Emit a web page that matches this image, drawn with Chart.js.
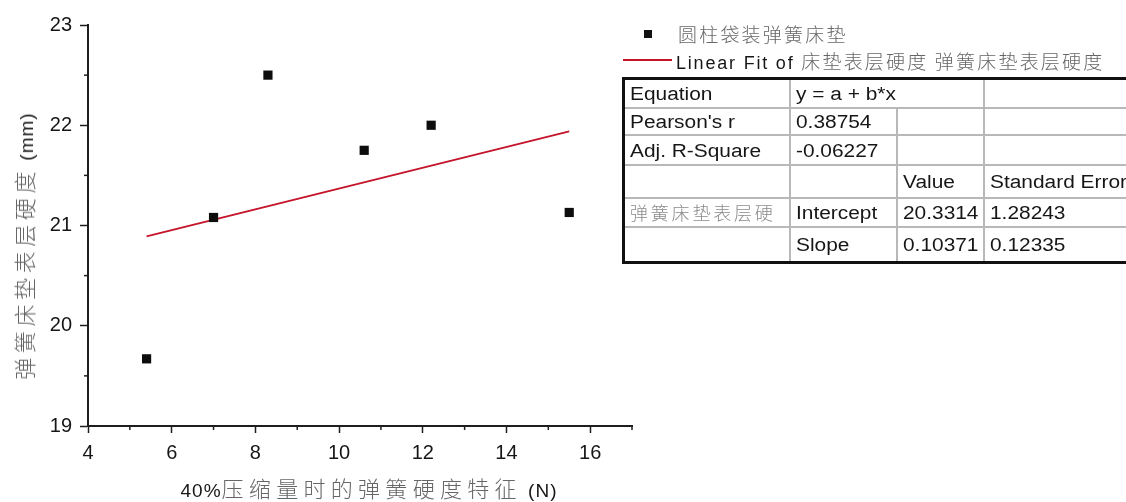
<!DOCTYPE html>
<html>
<head>
<meta charset="utf-8">
<title>弹簧床垫表层硬度</title>
<script src="https://cdn.jsdelivr.net/npm/chart.js@4.4.1/dist/chart.umd.min.js"></script>
<style>
  html, body { margin: 0; padding: 0; background: #fff; }
  #wrap { position: relative; width: 1126px; height: 502px; overflow: hidden; }
  #chart { position: absolute; left: 0; top: 0; }
  .lat { font-family: "Liberation Sans", Arial, sans-serif; color: #161616; }
  .cjk { font-family: "Noto Sans CJK SC", sans-serif; color: #666; font-weight: 300; }
  .title { position: absolute; white-space: nowrap; line-height: 1; }
  #xTitle { left: 369px; top: 488px; transform: translate(-50%, -50%); }
  #yTitle { left: 24px; top: 246px; transform: translate(-50%, -50%) rotate(-90deg); }
  .title .lat { font-size: 19px; letter-spacing: 1px; }
  #xTitle .cjk { font-size: 22px; letter-spacing: 5.3px; }
  #yTitle .cjk { font-size: 22px; letter-spacing: 4.6px; }
  #legend { position: absolute; left: 600px; top: 20px; }
  .legRow { position: absolute; white-space: nowrap; line-height: 1; }
  .legRow .lat { font-size: 18px; letter-spacing: 1.8px; }
  .legRow .cjk { font-size: 19px; letter-spacing: 2.2px; }
  #fitTable { position: absolute; left: 622px; top: 77px; border-collapse: collapse; table-layout: fixed; border: 3px solid #111; }
  #fitTable td { border: 2px solid #b8b8b8; padding: 3px 0 0 5px; vertical-align: middle; white-space: nowrap; overflow: hidden; box-sizing: border-box; line-height: 20px; }
  #fitTable td span.lat { display: inline-block; font-size: 18px; transform: scaleX(1.16); transform-origin: left center; }
  #fitTable td span.cjk { font-size: 18px; letter-spacing: 2.8px; color: #8a8a8a; }
</style>
</head>
<body>
<div id="wrap">
  <canvas id="chart" width="1126" height="502"></canvas>
  <div id="xTitle" class="title"></div>
  <div id="yTitle" class="title"></div>
  <div id="legend"></div>
  <table id="fitTable"></table>
</div>
<script>
// Measured samples: spring hardness at 40% compression (N) vs mattress surface hardness (mm)
const springHardness = [5.4, 7.0, 8.3, 10.6, 12.2, 15.5];
const surfaceHardness = [19.67, 21.08, 22.5, 21.75, 22.0, 21.13];

// Linear fit results (y = a + b*x)
const fitIntercept = 20.3314;
const fitSlope = 0.10371;

// Labelled (major) tick values
const xTickLabels = [4, 6, 8, 10, 12, 14, 16];
const yTickLabels = [19, 20, 21, 22, 23];

// Text pieces
const seriesName = '圆柱袋装弹簧床垫';
const fitLegendLatin = 'Linear Fit of ';
const fitLegendCjk = '床垫表层硬度 弹簧床垫表层硬度';
const xTitleParts = [['lat', '40%'], ['cjk', '压缩量时的弹簧硬度特征'], ['lat', ' (N)']];
const yTitleParts = [['cjk', '弹簧床垫表层硬度'], ['lat', ' (mm)']];

// Fit-result table rows: [text, css class, colspan]
const tableRows = [
  [['Equation', 'lat'], ['y = a + b*x', 'lat', 2], ['', 'lat']],
  [['Pearson\'s r', 'lat'], ['0.38754', 'lat'], ['', 'lat'], ['', 'lat']],
  [['Adj. R-Square', 'lat'], ['-0.06227', 'lat'], ['', 'lat'], ['', 'lat']],
  [['', 'lat'], ['', 'lat'], ['Value', 'lat'], ['Standard Error', 'lat']],
  [['弹簧床垫表层硬', 'cjk'], ['Intercept', 'lat'], ['20.3314', 'lat'], ['1.28243', 'lat']],
  [['', 'lat'], ['Slope', 'lat'], ['0.10371', 'lat'], ['0.12335', 'lat']]
];
const tableColWidths = [166, 107, 87, 160];
const tableRowHeights = [29, 27, 30, 33, 29, 36];

// ---- text overlays ----
function fillParts(el, parts) {
  parts.forEach(([cls, txt]) => {
    const s = document.createElement('span');
    s.className = cls;
    s.textContent = txt;
    el.appendChild(s);
  });
}
fillParts(document.getElementById('xTitle'), xTitleParts);
fillParts(document.getElementById('yTitle'), yTitleParts);

const legend = document.getElementById('legend');
legend.innerHTML =
  '<div style="position:absolute;left:44px;top:10px;width:8px;height:8px;background:#111"></div>' +
  '<div class="legRow" style="left:78px;top:4px"><span class="cjk"></span></div>' +
  '<div style="position:absolute;left:23px;top:39px;width:49px;height:2px;background:#c4152b"></div>' +
  '<div class="legRow" style="left:76px;top:31px"><span class="lat"></span><span class="cjk"></span></div>';
legend.querySelectorAll('.legRow')[0].querySelector('.cjk').textContent = seriesName;
legend.querySelectorAll('.legRow')[1].querySelector('.lat').textContent = fitLegendLatin;
legend.querySelectorAll('.legRow')[1].querySelector('.cjk').textContent = fitLegendCjk;

const table = document.getElementById('fitTable');
const cg = document.createElement('colgroup');
tableColWidths.forEach(w => { const c = document.createElement('col'); c.style.width = w + 'px'; cg.appendChild(c); });
table.appendChild(cg);
table.style.width = tableColWidths.reduce((a, b) => a + b, 0) + 'px';
tableRows.forEach((row, ri) => {
  const tr = document.createElement('tr');
  tr.style.height = tableRowHeights[ri] + 'px';
  row.forEach(([txt, cls, span]) => {
    const td = document.createElement('td');
    if (span) td.colSpan = span;
    const s = document.createElement('span');
    s.className = cls;
    s.textContent = txt;
    td.appendChild(s);
    tr.appendChild(td);
  });
  table.appendChild(tr);
});

// ---- chart ----
const points = springHardness.map((x, i) => ({ x, y: surfaceHardness[i] }));
const xMin = Math.min(...springHardness), xMax = Math.max(...springHardness);
const fitLine = [
  { x: xMin, y: fitIntercept + fitSlope * xMin },
  { x: xMax, y: fitIntercept + fitSlope * xMax }
];

const axisColor = '#1e1e1e';

// short unlabelled ticks between the labelled ones
const minorTicks = {
  id: 'minorTicks',
  afterDraw(chart) {
    const { ctx } = chart;
    const xs = chart.scales.x, ys = chart.scales.y;
    ctx.save();
    ctx.strokeStyle = axisColor;
    ctx.lineWidth = 1.5;
    xs.ticks.forEach(t => {
      if (xTickLabels.includes(t.value)) return;
      const px = xs.getPixelForValue(t.value);
      ctx.beginPath(); ctx.moveTo(px, xs.top); ctx.lineTo(px, xs.top + 4); ctx.stroke();
    });
    ys.ticks.forEach(t => {
      if (yTickLabels.includes(t.value)) return;
      const py = ys.getPixelForValue(t.value);
      ctx.beginPath(); ctx.moveTo(ys.right, py); ctx.lineTo(ys.right - 4, py); ctx.stroke();
    });
    ctx.restore();
  }
};

const tickFont = { family: '"Liberation Sans", Arial, sans-serif', size: 20 };

new Chart(document.getElementById('chart'), {
  type: 'scatter',
  data: {
    datasets: [
      {
        label: seriesName,
        data: points,
        pointStyle: 'rect',
        pointRadius: 6.5,
        pointHoverRadius: 6.5,
        backgroundColor: '#0d0d0d',
        borderColor: '#0d0d0d',
        borderWidth: 0
      },
      {
        label: fitLegendLatin + fitLegendCjk,
        data: fitLine,
        showLine: true,
        pointRadius: 0,
        borderColor: '#c4152b',
        borderWidth: 2,
        fill: false
      }
    ]
  },
  options: {
    responsive: false,
    animation: false,
    events: [],
    layout: { padding: { left: 0, top: 25, right: 494, bottom: 0 } },
    plugins: { legend: { display: false }, tooltip: { enabled: false } },
    scales: {
      x: {
        type: 'linear',
        min: 4, max: 17,
        afterFit(s) { s.height = 76; },
        border: { display: true, color: axisColor, width: 2 },
        grid: {
          display: true, drawOnChartArea: false, drawTicks: true, tickLength: 7, tickWidth: 1.5,
          tickColor: c => (c.tick && xTickLabels.includes(c.tick.value)) ? axisColor : 'rgba(0,0,0,0)'
        },
        ticks: {
          stepSize: 1, autoSkip: false, maxRotation: 0, padding: 8,
          color: '#161616', font: tickFont,
          callback: v => xTickLabels.includes(v) ? String(v) : ''
        }
      },
      y: {
        type: 'linear',
        min: 19, max: 23,
        afterFit(s) { s.width = 88; },
        border: { display: true, color: axisColor, width: 2 },
        grid: {
          display: true, drawOnChartArea: false, drawTicks: true, tickLength: 8, tickWidth: 1.5,
          tickColor: c => (c.tick && yTickLabels.includes(c.tick.value)) ? axisColor : 'rgba(0,0,0,0)'
        },
        ticks: {
          stepSize: 0.5, autoSkip: false, padding: 8,
          color: '#161616', font: tickFont,
          callback: v => yTickLabels.includes(v) ? String(v) : ''
        }
      }
    }
  },
  plugins: [minorTicks]
});
</script>
</body>
</html>
